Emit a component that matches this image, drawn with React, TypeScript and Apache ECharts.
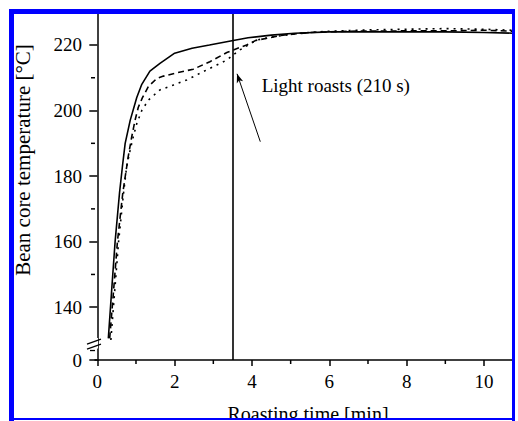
import React, { useEffect, useRef } from "react";
import * as echarts from "echarts";

// ---- axes ----
const xTickValues = [0, 2, 4, 6, 8, 10];
const xMinorTickValues = [1, 3, 5, 7, 9];
const yTickValues = [140, 160, 180, 200, 220];
const yMinorTickValues = [150, 170, 190, 210];
const xAxisMin = -0.06;
const xAxisMax = 10.75;
const yAxisBottom = 123.9; // drawn as "0" below the axis break
const yAxisTop = 229.45;
const yBreakTop = 130.6;
const yBreakBottom = 127.4;

// ---- annotation ----
const lightRoastTime = 3.5; // min (210 s)
const annotationText = "Light roasts (210 s)";
const annotationAt = [4.25, 207.5];
const arrowFrom = [4.215, 190.5];
const arrowTo = [3.613, 211.2];

// ---- series (x: min, y: °C) ----
const solidCurve = [
  [0.285, 130.5], [0.37, 145], [0.46, 160], [0.575, 175], [0.65, 183], [0.72, 190],
  [0.85, 197], [1.02, 204], [1.15, 208], [1.36, 212], [1.62, 214.4], [2.0, 217.5],
  [2.45, 219], [2.9, 220], [3.48, 221.3], [3.9, 222.2], [4.5, 223], [5.1, 223.6],
  [6, 224], [7, 224], [8, 224], [9, 224], [10, 223.8], [10.75, 223.6],
];
const dashedCurve = [
  [0.32, 130.5], [0.42, 145], [0.52, 160], [0.66, 175], [0.8, 186], [0.89, 192],
  [0.975, 197], [1.06, 201], [1.17, 204], [1.32, 207.3], [1.54, 209.8], [1.71, 210.5],
  [2.09, 211.6], [2.48, 212.6], [2.91, 214.9], [3.35, 217.7], [3.52, 218.5], [3.86, 220],
  [4.1, 221.4], [4.8, 223], [5.5, 223.8], [6.5, 224.2], [8, 224.3], [9, 224.3],
  [10, 224.5], [10.75, 224.2],
];
const dottedCurve = [
  [0.35, 130], [0.45, 145], [0.55, 160], [0.68, 175], [0.76, 183], [0.85, 188],
  [0.93, 192], [1.02, 196], [1.15, 200], [1.32, 203.2], [1.62, 206.3], [1.97, 207.8],
  [2.31, 209.3], [2.66, 211.4], [3.09, 213.9], [3.35, 215.4], [3.52, 217], [3.69, 218.5],
  [4.12, 221.5], [4.55, 222.5], [5.24, 223.6], [6, 224.2], [7, 224.6], [8, 224.8],
  [9, 225], [10, 224.8], [10.75, 224.5],
];

const FONT = "'Liberation Serif', 'DejaVu Serif', serif";

export default function App() {
  const ref = useRef<HTMLDivElement>(null);
  useEffect(() => {
    if (!ref.current) return;
    const chart = echarts.init(ref.current, undefined, { renderer: "svg" });
    const axisLineStyle = { color: "#000", width: 1.5 };
    const lineSeries = (name: string, data: number[][], type: any, extra: any = {}) => ({
      name,
      type: "line",
      data,
      showSymbol: false,
      symbol: "none",
      smooth: false,
      lineStyle: { color: "#000", width: 1.6, type },
      z: 3,
      ...extra,
    });
    chart.setOption({
      animation: false,
      backgroundColor: "#fff",
      textStyle: { fontFamily: FONT, color: "#000" },
      grid: { left: 95, right: 5, top: 14, bottom: 61, containLabel: false },
      xAxis: {
        type: "value",
        min: xAxisMin,
        max: xAxisMax,
        axisLine: { show: true, lineStyle: axisLineStyle },
        axisTick: { show: true, customValues: xTickValues, length: 6, lineStyle: axisLineStyle },
        axisLabel: {
          show: true,
          customValues: xTickValues,
          margin: 12,
          color: "#000",
          fontFamily: FONT,
          fontSize: 19,
        },
        splitLine: { show: false },
      },
      yAxis: {
        type: "value",
        min: yAxisBottom,
        max: yAxisTop,
        axisLine: { show: true, lineStyle: axisLineStyle },
        axisTick: { show: true, customValues: [yAxisBottom, ...yTickValues], length: 8, lineStyle: axisLineStyle },
        axisLabel: {
          show: true,
          customValues: [yAxisBottom, ...yTickValues],
          margin: 13,
          color: "#000",
          fontFamily: FONT,
          fontSize: 19,
          formatter: (v: number) => (v < yBreakBottom ? "0" : String(Math.round(v))),
        },
        splitLine: { show: false },
      },
      series: [
        lineSeries("solid", solidCurve, "solid", {
          markLine: {
            silent: true,
            symbol: "none",
            label: { show: false },
            lineStyle: { color: "#000", width: 1.6, type: "solid" },
            data: [
              { xAxis: lightRoastTime },
              [
                { coord: arrowFrom, symbol: "none", lineStyle: { width: 1, type: "solid", color: "#000" } },
                { coord: arrowTo, symbol: "arrow", symbolSize: [5, 9] },
              ],
            ],
          },
        }),
        lineSeries("dashed", dashedCurve, [6, 4]),
        lineSeries("dotted", dottedCurve, [2, 5]),
      ],
    });

    const px = (x: number, y: number) => chart.convertToPixel({ xAxisIndex: 0, yAxisIndex: 0 }, [x, y]) as number[];
    const axisX = px(xAxisMin, yAxisTop)[0];
    const axisY = px(xAxisMin, yAxisBottom)[1];
    const bTop = px(xAxisMin, yBreakTop)[1];
    const bBot = px(xAxisMin, yBreakBottom)[1];
    const txt = px(annotationAt[0], annotationAt[1]);
    const blue = "#0000ff";
    const tickStyle = { stroke: "#000", lineWidth: 1.5 };
    const minorX = xMinorTickValues.map((v) => {
      const x = px(v, yAxisBottom)[0];
      return { type: "line", shape: { x1: x, y1: axisY, x2: x, y2: axisY + 4 }, style: tickStyle, z: 45 };
    });
    const minorY = yMinorTickValues.map((v) => {
      const y = px(xAxisMin, v)[1];
      return { type: "line", shape: { x1: axisX - 4, y1: y, x2: axisX, y2: y }, style: tickStyle, z: 45 };
    });
    chart.setOption({
      graphic: [
        ...minorX,
        ...minorY,
        { type: "rect", shape: { x: axisX - 3, y: bTop, width: 6, height: bBot - bTop }, style: { fill: "#fff" }, z: 50 },
        { type: "line", shape: { x1: axisX - 8, y1: bTop + 6, x2: axisX + 6, y2: bTop + 1 }, style: { stroke: "#000", lineWidth: 1.3 }, z: 51 },
        { type: "line", shape: { x1: axisX - 8, y1: bTop + 11, x2: axisX + 6, y2: bTop + 6 }, style: { stroke: "#000", lineWidth: 1.3 }, z: 51 },
        { type: "line", shape: { x1: axisX - 5, y1: bBot + 2, x2: axisX, y2: bBot + 2 }, style: { stroke: "#000", lineWidth: 1.3 }, z: 51 },
        {
          type: "text",
          x: txt[0],
          y: txt[1],
          style: { text: annotationText, fill: "#000", fontFamily: FONT, fontSize: 19, align: "left", verticalAlign: "middle" },
          z: 40,
        },
        {
          type: "text",
          x: 23,
          y: 160,
          rotation: Math.PI / 2,
          style: { text: "Bean core temperature [°C]", fill: "#000", fontFamily: FONT, fontSize: 21, align: "center", verticalAlign: "middle" },
          z: 40,
        },
        {
          type: "text",
          x: 308,
          y: 414,
          style: { text: "Roasting time [min]", fill: "#000", fontFamily: FONT, fontSize: 20, align: "center", verticalAlign: "middle" },
          z: 40,
        },
        { type: "rect", shape: { x: 0, y: 420, width: 518, height: 1 }, style: { fill: "#fff" }, z: 90 },
        { type: "rect", shape: { x: 9, y: 9, width: 5, height: 412 }, style: { fill: blue }, z: 100 },
        { type: "rect", shape: { x: 9, y: 9, width: 506, height: 5 }, style: { fill: blue }, z: 100 },
        { type: "rect", shape: { x: 512, y: 9, width: 3, height: 412 }, style: { fill: blue }, z: 100 },
        { type: "rect", shape: { x: 9, y: 418, width: 506, height: 2 }, style: { fill: blue }, z: 100 },
      ],
    });
    return () => chart.dispose();
  }, []);
  return <div ref={ref} style={{ position: "absolute", left: 0, top: 0, width: 518, height: 421 }} />;
}
